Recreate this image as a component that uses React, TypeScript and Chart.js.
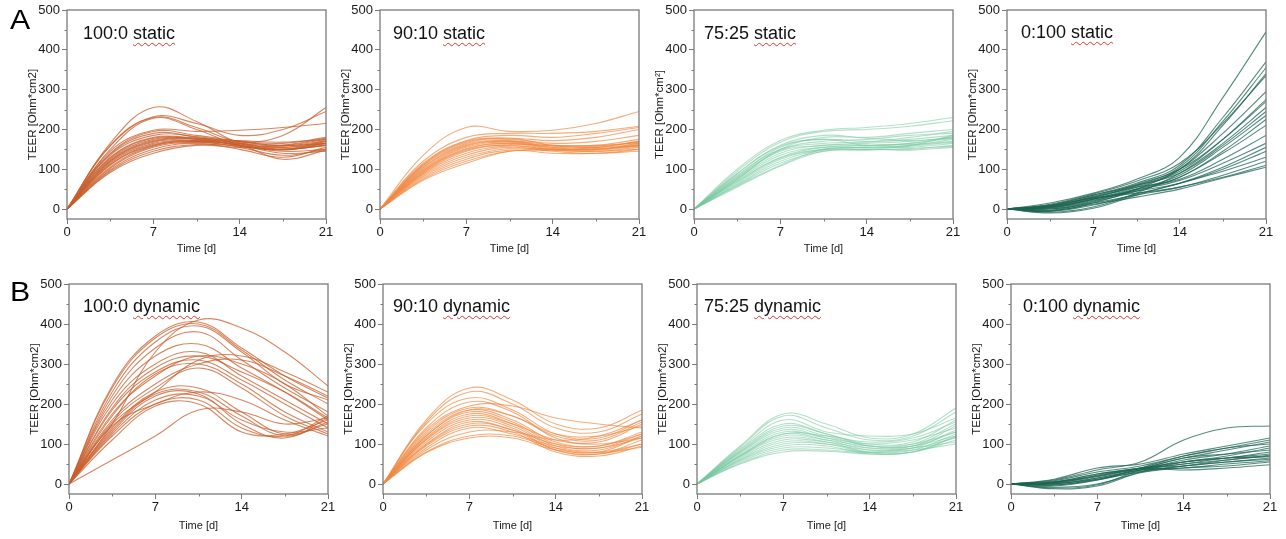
import React, { useEffect, useRef } from "react";
import { Chart, registerables } from "chart.js";

Chart.register(...registerables);

const DAYS = [0, 3.5, 7, 10.5, 14, 17.5, 21];
const X_TICKS = [0, 7, 14, 21];
const X_MINOR = [3.5, 10.5, 17.5];
const Y_TICKS = [0, 100, 200, 300, 400, 500];
const Y_MINOR = [50, 150, 250, 350, 450];

const STATIC_100_0 = [
  [0, 165, 255, 220, 165, 150, 160],
  [0, 160, 232, 215, 185, 200, 245],
  [0, 158, 230, 205, 170, 185, 255],
  [0, 150, 228, 200, 160, 150, 165],
  [0, 145, 198, 195, 198, 205, 215],
  [0, 140, 195, 185, 170, 160, 175],
  [0, 138, 190, 180, 160, 150, 170],
  [0, 135, 185, 182, 165, 155, 165],
  [0, 130, 180, 178, 170, 165, 180],
  [0, 128, 178, 175, 160, 145, 150],
  [0, 125, 175, 178, 172, 168, 175],
  [0, 122, 172, 176, 165, 150, 160],
  [0, 120, 170, 175, 160, 140, 145],
  [0, 118, 168, 172, 162, 155, 170],
  [0, 115, 165, 172, 168, 160, 165],
  [0, 112, 162, 170, 155, 135, 150],
  [0, 110, 160, 168, 158, 150, 160],
  [0, 105, 158, 170, 160, 125, 148],
  [0, 102, 155, 168, 165, 158, 172],
  [0, 98, 150, 165, 150, 130, 155],
  [0, 95, 145, 162, 158, 148, 165],
  [0, 92, 140, 160, 155, 160, 178],
];

const STATIC_90_10 = [
  [0, 135, 205, 195, 198, 215, 245],
  [0, 120, 180, 190, 190, 195, 208],
  [0, 115, 172, 185, 180, 190, 205],
  [0, 112, 170, 178, 172, 180, 200],
  [0, 110, 168, 175, 165, 170, 185],
  [0, 108, 165, 178, 160, 160, 175],
  [0, 105, 162, 172, 160, 155, 170],
  [0, 103, 160, 170, 155, 150, 165],
  [0, 100, 158, 170, 158, 158, 168],
  [0, 98, 155, 168, 152, 150, 160],
  [0, 96, 152, 165, 150, 145, 155],
  [0, 94, 150, 165, 155, 155, 162],
  [0, 92, 148, 160, 148, 145, 150],
  [0, 90, 145, 162, 160, 160, 165],
  [0, 88, 140, 158, 150, 148, 158],
  [0, 85, 135, 155, 145, 140, 150],
  [0, 82, 130, 152, 150, 152, 160],
  [0, 78, 125, 148, 140, 140, 145],
  [0, 75, 120, 145, 148, 155, 170],
  [0, 72, 115, 145, 150, 150, 160],
];

const STATIC_75_25 = [
  [0, 100, 172, 198, 205, 215, 230],
  [0, 95, 168, 195, 200, 208, 222],
  [0, 90, 160, 185, 180, 190, 200],
  [0, 88, 158, 175, 170, 180, 195],
  [0, 85, 150, 170, 175, 185, 190],
  [0, 80, 148, 165, 168, 175, 185],
  [0, 78, 145, 160, 165, 170, 180],
  [0, 75, 140, 160, 160, 165, 178],
  [0, 72, 135, 155, 155, 160, 175],
  [0, 70, 130, 155, 160, 162, 170],
  [0, 68, 128, 150, 150, 158, 168],
  [0, 65, 125, 150, 155, 155, 165],
  [0, 62, 120, 148, 150, 150, 160],
  [0, 60, 115, 145, 148, 152, 158],
  [0, 58, 110, 150, 155, 160, 185],
  [0, 55, 108, 145, 150, 148, 155],
  [0, 75, 150, 180, 178, 172, 178],
  [0, 82, 155, 175, 160, 165, 182],
];

const STATIC_0_100 = [
  [0, 15, 40, 75, 130, 280, 445],
  [0, 10, 35, 65, 110, 230, 370],
  [0, 8, 30, 60, 105, 220, 355],
  [0, 5, 28, 58, 100, 210, 340],
  [0, 12, 38, 70, 115, 215, 335],
  [0, -5, 15, 50, 100, 190, 295],
  [0, 3, 25, 55, 95, 175, 275],
  [0, 8, 32, 62, 100, 175, 270],
  [0, -8, 5, 40, 90, 165, 255],
  [0, 10, 35, 60, 90, 160, 245],
  [0, 0, 20, 50, 85, 155, 235],
  [0, 5, 25, 50, 80, 145, 225],
  [0, -3, 18, 45, 80, 140, 210],
  [0, 6, 30, 55, 75, 125, 185],
  [0, 2, 22, 48, 72, 115, 165],
  [0, -6, 10, 38, 65, 105, 155],
  [0, 4, 25, 45, 65, 100, 145],
  [0, -10, 2, 35, 65, 95, 130],
  [0, 8, 28, 40, 55, 85, 120],
  [0, 0, 15, 35, 55, 80, 110],
  [0, -4, 12, 30, 50, 78, 105],
];

const DYNAMIC_100_0 = [
  [0, 150, 330, 410, 390, 330, 245],
  [0, 245, 370, 405, 340, 270, 215],
  [0, 240, 365, 400, 335, 260, 200],
  [0, 230, 355, 395, 330, 250, 210],
  [0, 220, 340, 380, 310, 240, 180],
  [0, 210, 320, 350, 290, 230, 160],
  [0, 200, 300, 330, 270, 210, 150],
  [0, 190, 290, 320, 280, 230, 165],
  [0, 185, 280, 310, 260, 200, 140],
  [0, 175, 270, 320, 300, 250, 170],
  [0, 170, 275, 300, 250, 180, 130],
  [0, 160, 250, 300, 310, 270, 220],
  [0, 155, 240, 290, 240, 170, 125],
  [0, 150, 230, 310, 320, 280, 230],
  [0, 140, 230, 240, 180, 125, 150],
  [0, 135, 225, 230, 170, 120, 155],
  [0, 130, 220, 225, 150, 115, 165],
  [0, 125, 210, 220, 160, 130, 140],
  [0, 120, 200, 210, 140, 120, 170],
  [0, 110, 195, 200, 130, 125, 160],
  [0, 60, 120, 185, 180, 150, 165],
  [0, 145, 200, 230, 210, 160, 120],
];

const DYNAMIC_90_10 = [
  [0, 160, 240, 210, 150, 140, 185],
  [0, 155, 230, 200, 140, 130, 175],
  [0, 150, 215, 185, 125, 115, 160],
  [0, 140, 205, 180, 115, 105, 150],
  [0, 135, 195, 195, 165, 150, 140],
  [0, 130, 190, 170, 120, 110, 155],
  [0, 125, 185, 160, 105, 95, 130],
  [0, 120, 180, 155, 100, 90, 125],
  [0, 115, 175, 150, 95, 85, 120],
  [0, 112, 170, 150, 110, 100, 115],
  [0, 110, 165, 145, 90, 80, 120],
  [0, 105, 160, 140, 85, 75, 110],
  [0, 100, 155, 135, 100, 95, 125],
  [0, 98, 150, 135, 85, 75, 100],
  [0, 95, 145, 130, 80, 70, 95],
  [0, 90, 140, 125, 95, 90, 115],
  [0, 85, 130, 130, 110, 120, 160],
  [0, 80, 120, 120, 90, 80, 100],
  [0, 78, 115, 115, 85, 78, 92],
  [0, 120, 185, 170, 125, 120, 145],
];

const DYNAMIC_75_25 = [
  [0, 95, 175, 150, 115, 125, 190],
  [0, 92, 170, 140, 110, 120, 180],
  [0, 88, 160, 130, 120, 125, 165],
  [0, 85, 150, 125, 100, 105, 160],
  [0, 80, 140, 120, 95, 100, 150],
  [0, 78, 135, 115, 90, 95, 145],
  [0, 75, 130, 115, 100, 110, 140],
  [0, 72, 125, 110, 85, 90, 135],
  [0, 70, 120, 110, 95, 100, 130],
  [0, 68, 115, 105, 80, 85, 125],
  [0, 65, 110, 105, 90, 95, 120],
  [0, 62, 105, 100, 78, 80, 118],
  [0, 60, 100, 100, 85, 90, 115],
  [0, 58, 95, 95, 75, 80, 110],
  [0, 55, 90, 90, 80, 90, 105],
  [0, 52, 85, 85, 78, 85, 100],
  [0, 50, 80, 82, 75, 80, 120],
  [0, 70, 125, 120, 105, 115, 155],
  [0, 82, 145, 125, 95, 95, 130],
];

const DYNAMIC_0_100 = [
  [0, 10, 35, 55, 110, 140, 145],
  [0, 12, 40, 50, 75, 95, 115],
  [0, 8, 30, 45, 70, 90, 110],
  [0, 5, 25, 40, 65, 85, 105],
  [0, -5, 10, 40, 70, 90, 100],
  [0, 0, 15, 35, 60, 75, 95],
  [0, 3, 20, 38, 55, 70, 90],
  [0, -10, -2, 35, 65, 75, 85],
  [0, 6, 25, 40, 55, 65, 80],
  [0, -3, 12, 35, 50, 65, 75],
  [0, 2, 18, 38, 50, 60, 70],
  [0, -8, 0, 30, 55, 65, 68],
  [0, 4, 22, 40, 45, 55, 65],
  [0, -2, 10, 32, 45, 55, 62],
  [0, 0, 15, 35, 40, 50, 58],
  [0, -12, -5, 28, 40, 45, 55],
  [0, 5, 20, 38, 35, 40, 48],
  [0, 1, 12, 30, 45, 60, 72],
];

const COLOR_100_0 = "rgba(200, 95, 45, 0.75)";
const COLOR_90_10 = "rgba(240, 138, 68, 0.7)";
const COLOR_75_25 = "rgba(118, 198, 158, 0.55)";
const COLOR_0_100 = "rgba(28, 100, 80, 0.75)";

const FONT = "Arial, 'Liberation Sans', Helvetica, sans-serif";
const AXIS_COLOR = "#7a7a7a";
const TEXT_COLOR = "#1a1a1a";
const PLOT_W = 259;
const PAD_L = 60;
const PAD_T = 10;
const PAD_R = 16;
const PAD_B = 45;

type Panel = {
  ratio: string;
  mode: string;
  data: number[][];
  color: string;
  yTitle: string;
  plotLeft: number;
  plotTop: number;
  plotH: number;
  titleLeft: number;
  titleBase: number;
  xTitleGap: number;
};

const PANELS: Panel[] = [
  { ratio: "100:0", mode: "static", data: STATIC_100_0, color: COLOR_100_0, yTitle: "TEER [Ohm*cm2]", plotLeft: 67, plotTop: 10, plotH: 209, titleLeft: 83, titleBase: 39.3, xTitleGap: 30 },
  { ratio: "90:10", mode: "static", data: STATIC_90_10, color: COLOR_90_10, yTitle: "TEER [Ohm*cm2]", plotLeft: 380, plotTop: 10, plotH: 209, titleLeft: 393, titleBase: 39.3, xTitleGap: 30 },
  { ratio: "75:25", mode: "static", data: STATIC_75_25, color: COLOR_75_25, yTitle: "TEER [Ohm*cm²]", plotLeft: 693.5, plotTop: 10, plotH: 209, titleLeft: 704, titleBase: 39.3, xTitleGap: 30 },
  { ratio: "0:100", mode: "static", data: STATIC_0_100, color: COLOR_0_100, yTitle: "TEER [Ohm*cm2]", plotLeft: 1007, plotTop: 10, plotH: 209, titleLeft: 1021, titleBase: 38.5, xTitleGap: 30 },
  { ratio: "100:0", mode: "dynamic", data: DYNAMIC_100_0, color: COLOR_100_0, yTitle: "TEER [Ohm*cm2]", plotLeft: 69, plotTop: 284, plotH: 210, titleLeft: 83, titleBase: 312, xTitleGap: 32 },
  { ratio: "90:10", mode: "dynamic", data: DYNAMIC_90_10, color: COLOR_90_10, yTitle: "TEER [Ohm*cm2]", plotLeft: 383.3, plotTop: 284, plotH: 210, titleLeft: 393, titleBase: 312, xTitleGap: 32 },
  { ratio: "75:25", mode: "dynamic", data: DYNAMIC_75_25, color: COLOR_75_25, yTitle: "TEER [Ohm*cm2]", plotLeft: 696.7, plotTop: 284, plotH: 210, titleLeft: 704, titleBase: 312, xTitleGap: 32 },
  { ratio: "0:100", mode: "dynamic", data: DYNAMIC_0_100, color: COLOR_0_100, yTitle: "TEER [Ohm*cm2]", plotLeft: 1010.7, plotTop: 284, plotH: 210, titleLeft: 1023, titleBase: 312, xTitleGap: 32 },
];

const framePlugin = {
  id: "frameMinor",
  afterDraw(chart: any) {
    const { ctx, chartArea } = chart;
    const xs = chart.scales.x;
    const ys = chart.scales.y;
    ctx.save();
    ctx.strokeStyle = AXIS_COLOR;
    ctx.lineWidth = 1.3;
    ctx.strokeRect(chartArea.left, chartArea.top, chartArea.right - chartArea.left, chartArea.bottom - chartArea.top);
    ctx.lineWidth = 1;
    ctx.beginPath();
    for (const v of Y_MINOR) {
      const y = Math.round(ys.getPixelForValue(v)) + 0.5;
      ctx.moveTo(chartArea.left - 2.5, y);
      ctx.lineTo(chartArea.left, y);
    }
    for (const v of X_MINOR) {
      const x = Math.round(xs.getPixelForValue(v)) + 0.5;
      ctx.moveTo(x, chartArea.bottom);
      ctx.lineTo(x, chartArea.bottom + 2.5);
    }
    ctx.stroke();
    ctx.restore();
  },
};

function PanelChart({ p }: { p: Panel }) {
  const ref = useRef<HTMLCanvasElement | null>(null);
  const w = PAD_L + PLOT_W + PAD_R;
  const h = PAD_T + p.plotH + PAD_B;
  useEffect(() => {
    if (!ref.current) return;
    const xTitleOffset = PAD_B - p.xTitleGap;
    const chart = new Chart(ref.current, {
      type: "line",
      data: {
        datasets: p.data.map((series, i) => ({
          label: `${p.ratio} ${p.mode} ${i + 1}`,
          data: series.map((v, j) => ({ x: DAYS[j], y: v })),
          borderColor: p.color,
          borderWidth: 1.1,
          pointRadius: 0,
          fill: false,
          tension: 0.4,
        })),
      },
      options: {
        animation: false,
        responsive: false,
        devicePixelRatio: 1,
        layout: { padding: { left: 0, top: PAD_T, right: PAD_R, bottom: 0 } },
        plugins: { legend: { display: false }, tooltip: { enabled: false }, title: { display: false } },
        scales: {
          x: {
            type: "linear",
            min: 0,
            max: 21,
            afterBuildTicks: (s: any) => {
              s.ticks = X_TICKS.map((v) => ({ value: v }));
            },
            afterFit: (s: any) => {
              s.height = PAD_B;
            },
            grid: { drawOnChartArea: false, drawTicks: true, tickLength: 5, tickColor: AXIS_COLOR, tickWidth: 1 },
            border: { display: false },
            ticks: { font: { family: FONT, size: 13 }, color: TEXT_COLOR, padding: 1, maxRotation: 0, autoSkip: false },
            title: {
              display: true,
              text: "Time [d]",
              font: { family: FONT, size: 11 },
              color: TEXT_COLOR,
              padding: { top: 0, bottom: xTitleOffset - 6.6 },
            },
          },
          y: {
            type: "linear",
            min: -25,
            max: 500,
            afterBuildTicks: (s: any) => {
              s.ticks = Y_TICKS.map((v) => ({ value: v }));
            },
            afterFit: (s: any) => {
              s.width = PAD_L;
            },
            grid: { drawOnChartArea: false, drawTicks: true, tickLength: 5, tickColor: AXIS_COLOR, tickWidth: 1 },
            border: { display: false },
            ticks: { font: { family: FONT, size: 13 }, color: TEXT_COLOR, padding: 2, autoSkip: false },
            title: {
              display: true,
              text: p.yTitle,
              font: { family: FONT, size: 11.5 },
              color: TEXT_COLOR,
              padding: { top: 26 - 6.9, bottom: 0 },
            },
          },
        },
      },
      plugins: [framePlugin],
    } as any);
    return () => chart.destroy();
  }, [p]);
  return (
    <canvas
      ref={ref}
      width={w}
      height={h}
      style={{ position: "absolute", left: p.plotLeft - PAD_L, top: p.plotTop - PAD_T, width: w, height: h }}
    />
  );
}

export default function App() {
  const titleSize = 18;
  const letterSize = 28;
  return (
    <div style={{ position: "absolute", left: 0, top: 0, width: 1286, height: 539, background: "#fff", overflow: "hidden", fontFamily: FONT }}>
      {PANELS.map((p, i) => (
        <PanelChart key={i} p={p} />
      ))}
      {PANELS.map((p, i) => (
        <div
          key={"t" + i}
          style={{
            position: "absolute",
            left: p.titleLeft,
            top: p.titleBase - 0.8465 * titleSize,
            fontSize: titleSize,
            lineHeight: 1,
            color: "#111",
            whiteSpace: "nowrap",
          }}
        >
          {p.ratio}{" "}
          <span style={{ textDecorationLine: "underline", textDecorationStyle: "wavy", textDecorationColor: "#e0352b", textDecorationThickness: "1px", textUnderlineOffset: "3px" }}>
            {p.mode}
          </span>
        </div>
      ))}
      {[
        { t: "A", left: 10, base: 30 },
        { t: "B", left: 10, base: 302 },
      ].map((l) => (
        <div
          key={l.t}
          style={{
            position: "absolute",
            left: l.left,
            top: l.base - 0.8465 * letterSize,
            fontSize: letterSize,
            lineHeight: 1,
            color: "#000",
            transform: "scaleX(1.08)",
            transformOrigin: "left top",
          }}
        >
          {l.t}
        </div>
      ))}
    </div>
  );
}
